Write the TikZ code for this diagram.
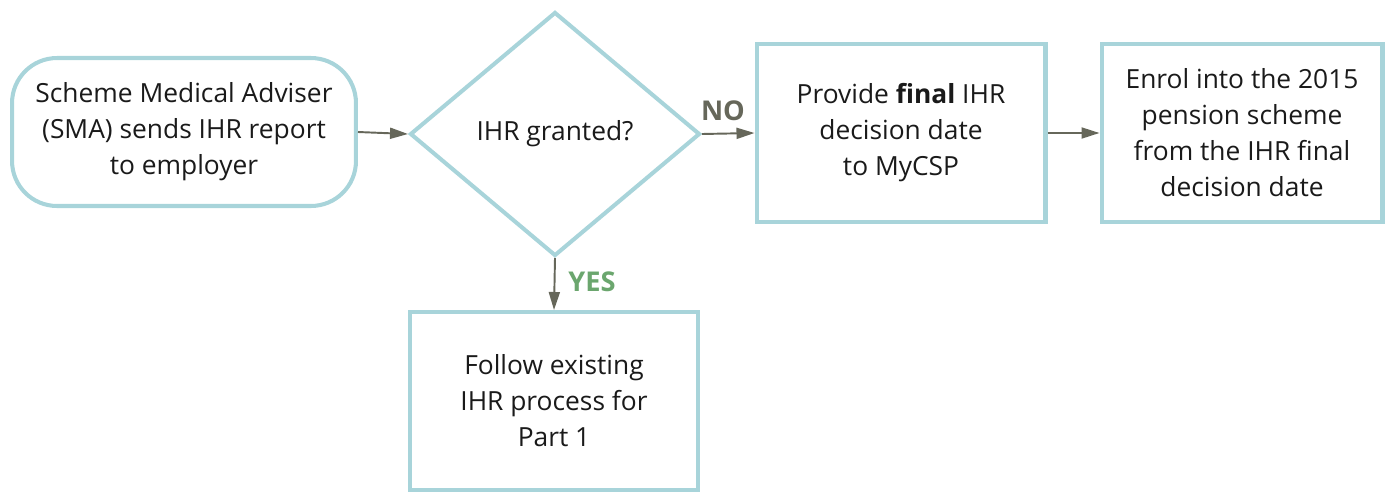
\documentclass[tikz,border=0pt]{standalone}
\usepackage{fontspec}
\setmainfont{Open Sans}
\usetikzlibrary{shapes.geometric,arrows.meta}

\definecolor{boxline}{HTML}{A8D4DA}
\definecolor{arrowgrey}{HTML}{66675A}
\definecolor{yesgreen}{HTML}{6BA66E}
\definecolor{textblack}{HTML}{1A1A1A}

\begin{document}
\begin{tikzpicture}[x=0.02cm,y=-0.02cm,
    every node/.style={align=center, text=textblack, font=\fontsize{15}{20.5}\selectfont},
    box/.style={draw=boxline, line width=2.3pt, inner sep=0pt},
    flow/.style={draw=arrowgrey, line width=1.1pt, -{Triangle[length=0.36cm,width=0.22cm]}},
    answer/.style={font=\bfseries\fontsize{15.5}{17}\selectfont}]
            \useasboundingbox (0,0) rectangle (1390,491);

            \node (sma) at (184,132) [box, rounded corners=0.9cm, minimum width=6.88cm, minimum height=2.96cm]
                {Scheme Medical Adviser\\(SMA) sends IHR report\\to employer};
            \node (ihr) at (555,134) [box, diamond, minimum width=5.8cm, minimum height=4.88cm]
                {IHR granted?};
            \node (final) at (901,133) [box, minimum width=5.78cm, minimum height=3.56cm]
                {Provide \textbf{final} IHR\\decision date\\to MyCSP};
            \node (enrol) at (1242,133) [box, minimum width=5.62cm, minimum height=3.56cm]
                {Enrol into the 2015\\pension scheme\\from the IHR final\\decision date};
            \node (part) at (554,401) [box, minimum width=5.76cm, minimum height=3.56cm]
                {Follow existing\\IHR process for\\Part 1};

            \draw[flow] (sma.east) -- (ihr.west);
            \draw[flow] (ihr.east) -- (final.west);
            \draw[flow] (final.east) -- (enrol.west);
            \draw[flow] (ihr.south) -- (part.north);

            \node (no) at (723,111) [answer, text=arrowgrey] {NO};
            \node (yes) at (592,282) [answer, text=yesgreen] {YES};
        \end{tikzpicture}
\end{document}
